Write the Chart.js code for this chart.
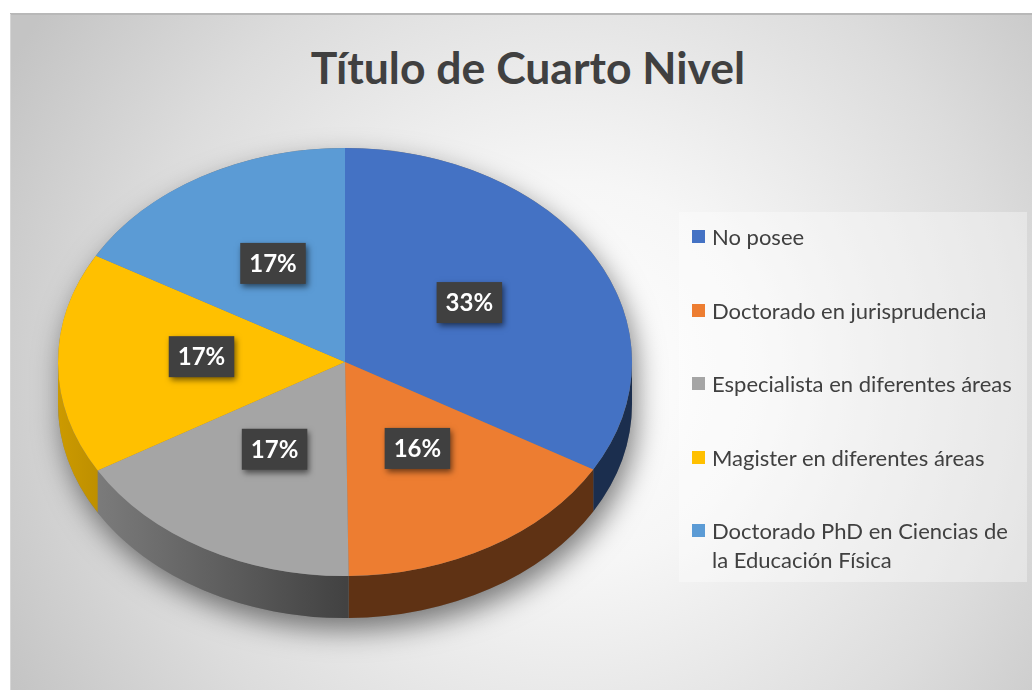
<!DOCTYPE html>
<html lang="es">
<head>
<meta charset="utf-8">
<title>Título de Cuarto Nivel</title>
<script src="https://cdn.jsdelivr.net/npm/chart.js@4.4.0/dist/chart.umd.min.js"></script>
<style>
    html, body { margin: 0; padding: 0; background: #fff; }
    body { width: 1032px; height: 690px; position: relative; overflow: hidden; font-family: Lato, 'Open Sans', sans-serif; }
    #frame {
        position: absolute; left: 10px; top: 14px; width: 1022px; height: 676px;
        background: radial-gradient(circle 640px at 560px 360px, #ffffff 0%, #f6f6f6 30%, #dcdcdc 70%, #c4c4c4 100%);
    }
    #frame-top { position: absolute; left: 10px; top: 13px; width: 1022px; height: 2px; background: #b8b8b8; }
    #frame-left { position: absolute; left: 10px; top: 14px; width: 1px; height: 676px; background: #d6d6d6; }
    #chart-title {
        position: absolute; left: 0; top: 39px; width: 1056px; height: 56px; line-height: 56px;
        text-align: center; font-weight: bold; font-size: 44.5px; color: #404040;
    }
    #pie-canvas { position: absolute; left: 10px; top: 14px; }
    #legend {
        position: absolute; left: 679px; top: 212px; width: 348px; height: 370px;
        background: rgba(255,255,255,0.35);
    }
    #legend ul { list-style: none; margin: 0; padding: 10px 0 0 13px; }
    #legend li { display: flex; align-items: flex-start; font-size: 22px; line-height: 29px; color: #404040; margin-bottom: 44.5px; }
    #legend .swatch { flex: none; width: 13px; height: 13px; margin: 8px 7px 0 0; }
    #legend .text { width: 305px; }
</style>
</head>
<body>
<div id="frame"></div>
<div id="frame-top"></div>
<div id="frame-left"></div>
<div id="chart-title">Título de Cuarto Nivel</div>
<canvas id="pie-canvas" width="1022" height="676"></canvas>
<div id="legend"><ul id="legend-list"></ul></div>

<script>
    /*** ======== Datos ======== ***/
    const categories = [
        'No posee',
        'Doctorado en jurisprudencia',
        'Especialista en diferentes áreas',
        'Magister en diferentes áreas',
        'Doctorado PhD en Ciencias de la Educación Física'
    ];
    const percentages = [33.3, 16.4, 16.7, 16.7, 16.7];
    const sliceColors = ['#4472C4', '#ED7D31', '#A5A5A5', '#FFC000', '#5B9BD5'];

    const TILT = 0.746;  // vertical squash of the top face
    const DEPTH = 42;    // height of the side wall

    function shade(hex, f) {
        const n = parseInt(hex.slice(1), 16);
        const r = Math.round(((n >> 16) & 255) * f);
        const g = Math.round(((n >> 8) & 255) * f);
        const b = Math.round((n & 255) * f);
        return `rgb(${r},${g},${b})`;
    }

    /*** ======== 3D pie plugin ======== ***/
    const pie3d = {
        id: 'pie3d',
        beforeDatasetsDraw(chart) {
            const ctx = chart.ctx;
            const arcs = chart.getDatasetMeta(0).data;
            if (!arcs.length) return;
            const cx = arcs[0].x, cy = arcs[0].y, r = arcs[0].outerRadius;
            const ry = r * TILT;

            // soft shadow under the cylinder
            ctx.save();
            ctx.shadowColor = 'rgba(0,0,0,0.5)';
            ctx.shadowBlur = 28;
            ctx.shadowOffsetX = 4;
            ctx.shadowOffsetY = 12;
            ctx.fillStyle = '#7a7a7a';
            ctx.beginPath();
            ctx.ellipse(cx, cy, r, ry, 0, Math.PI, 2 * Math.PI, false);
            ctx.ellipse(cx, cy + DEPTH, r, ry, 0, 0, Math.PI, false);
            ctx.closePath();
            ctx.fill();
            ctx.restore();

            // side walls (front half only)
            arcs.forEach((arc, i) => {
                const a0 = Math.max(arc.startAngle, 0);
                const a1 = Math.min(arc.endAngle, Math.PI);
                if (a1 <= a0) return;
                const grad = ctx.createLinearGradient(cx - r, 0, cx + r, 0);
                grad.addColorStop(0, shade(sliceColors[i], 0.8));
                grad.addColorStop(0.5, shade(sliceColors[i], 0.4));
                grad.addColorStop(1, shade(sliceColors[i], 0.4));
                ctx.save();
                ctx.fillStyle = grad;
                ctx.beginPath();
                ctx.ellipse(cx, cy, r, ry, 0, a0, a1, false);
                ctx.ellipse(cx, cy + DEPTH, r, ry, 0, a1, a0, true);
                ctx.closePath();
                ctx.fill();
                ctx.restore();
            });

            // squash the pie for the top face
            ctx.save();
            ctx.translate(0, cy);
            ctx.scale(1, TILT);
            ctx.translate(0, -cy);
        },
        afterDatasetsDraw(chart) {
            const ctx = chart.ctx;
            ctx.restore();
            const arcs = chart.getDatasetMeta(0).data;
            if (!arcs.length) return;
            const cy = arcs[0].y;

            ctx.save();
            ctx.font = 'bold 24px Lato, sans-serif';
            ctx.textAlign = 'center';
            ctx.textBaseline = 'middle';
            arcs.forEach((arc, i) => {
                const p = arc.tooltipPosition();
                const x = p.x;
                const y = cy + (p.y - cy) * TILT - 6;
                const text = Math.round(percentages[i]) + '%';
                const w = ctx.measureText(text).width + 18;
                const h = 41;
                ctx.save();
                ctx.shadowColor = 'rgba(0,0,0,0.55)';
                ctx.shadowBlur = 6;
                ctx.shadowOffsetX = 2;
                ctx.shadowOffsetY = 3;
                ctx.fillStyle = '#404040';
                ctx.fillRect(x - w / 2, y - h / 2, w, h);
                ctx.restore();
                ctx.fillStyle = '#ffffff';
                ctx.fillText(text, x, y + 1);
            });
            ctx.restore();
        }
    };

    /*** ======== Chart ======== ***/
    const ctx = document.getElementById('pie-canvas').getContext('2d');
    new Chart(ctx, {
        type: 'pie',
        data: {
            labels: categories,
            datasets: [{
                data: percentages,
                backgroundColor: sliceColors,
                borderWidth: 0
            }]
        },
        options: {
            responsive: false,
            animation: false,
            events: [],
            layout: { padding: { left: 48, right: 400, top: 61, bottom: 41 } },
            plugins: {
                legend: { display: false },
                tooltip: { enabled: false },
                title: { display: false }
            }
        },
        plugins: [pie3d]
    });

    /*** ======== Leyenda ======== ***/
    const legendList = document.getElementById('legend-list');
    categories.forEach((name, index) => {
        const li = document.createElement('li');
        const sw = document.createElement('span');
        sw.className = 'swatch';
        sw.style.backgroundColor = sliceColors[index];
        const txt = document.createElement('span');
        txt.className = 'text';
        txt.textContent = name;
        li.appendChild(sw);
        li.appendChild(txt);
        legendList.appendChild(li);
    });
</script>
</body>
</html>
